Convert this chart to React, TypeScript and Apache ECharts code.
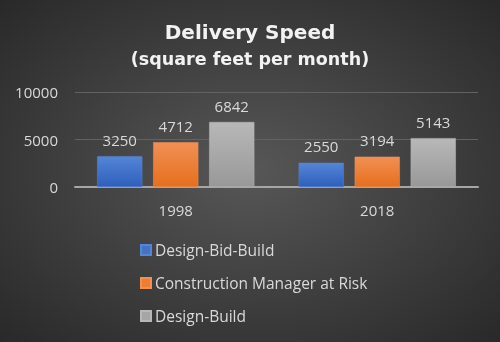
import React, { useEffect, useRef } from "react";
import * as echarts from "echarts";

const categories = ["1998", "2018"];
const seriesNames = ["Design-Bid-Build", "Construction Manager at Risk", "Design-Build"];
const designBidBuild = [3250, 2550];
const cmAtRisk = [4712, 3194];
const designBuild = [6842, 5143];
const yTicks = [0, 5000, 10000];

const grad = (top: string, bottom: string) =>
  new echarts.graphic.LinearGradient(0, 0, 0, 1, [
    { offset: 0, color: top },
    { offset: 1, color: bottom },
  ]);

export default function App() {
  const ref = useRef<HTMLDivElement>(null);
  useEffect(() => {
    if (!ref.current) return;
    const chart = echarts.init(ref.current, undefined, { renderer: "svg" });
    const textColor = "#d9d9d9";
    const labelFont = { color: textColor, fontSize: 15, fontFamily: "Open Sans" };
    const colors = [
      { top: "#5585d6", bottom: "#2e5fbd", legend: "#4472c4" },
      { top: "#f28f55", bottom: "#e66f1c", legend: "#ed7d31" },
      { top: "#b8b8b8", bottom: "#989898", legend: "#a5a5a5" },
    ];
    const data = [designBidBuild, cmAtRisk, designBuild];
    chart.setOption({
      animation: false,
      backgroundColor: {
        type: "radial",
        x: 0.5,
        y: 0.5,
        r: 0.75,
        colorStops: [
          { offset: 0, color: "#575757" },
          { offset: 1, color: "#262626" },
        ],
      },
      title: [
        {
          text: "Delivery Speed",
          left: "center",
          top: 17,
          textStyle: { color: "#f2f2f2", fontSize: 20, fontWeight: "bold", fontFamily: "DejaVu Sans" },
        },
        {
          text: "(square feet per month)",
          left: "center",
          top: 45,
          textStyle: { color: "#f2f2f2", fontSize: 17.5, fontWeight: "bold", fontFamily: "DejaVu Sans" },
        },
      ],
      legend: {
        orient: "vertical",
        left: 135,
        top: 237,
        itemWidth: 10,
        itemHeight: 10,
        itemGap: 17,
        icon: "rect",
        textStyle: { ...labelFont, fontSize: 15.5, padding: [0, 0, 0, -1] },
        data: seriesNames.map((n, i) => ({ name: n, itemStyle: { color: colors[i].legend } })),
      },
      grid: { left: 75, right: 22, top: 92, bottom: 155 },
      xAxis: {
        type: "category",
        data: categories,
        axisTick: { show: false },
        axisLine: { lineStyle: { color: "#a6a6a6", width: 2 } },
        axisLabel: { ...labelFont, margin: 15 },
      },
      yAxis: {
        type: "value",
        min: yTicks[0],
        max: yTicks[yTicks.length - 1],
        interval: 5000,
        axisLine: { show: false },
        axisTick: { show: false },
        splitLine: { lineStyle: { color: "#626262", width: 1 } },
        axisLabel: { ...labelFont, margin: 17, formatter: (v: number) => String(v) },
      },
      series: seriesNames.map((name, i) => ({
        name,
        type: "bar",
        data: data[i],
        barGap: "24%",
        barCategoryGap: "22%",
        itemStyle: {
          color: grad(colors[i].top, colors[i].bottom),
          borderColor: colors[i].top,
          borderWidth: 0.5,
        },
        label: { show: true, position: "top", distance: 9, ...labelFont },
      })),
    });
    return () => chart.dispose();
  }, []);
  return <div ref={ref} style={{ position: "fixed", left: 0, top: 0, width: 500, height: 342 }} />;
}
